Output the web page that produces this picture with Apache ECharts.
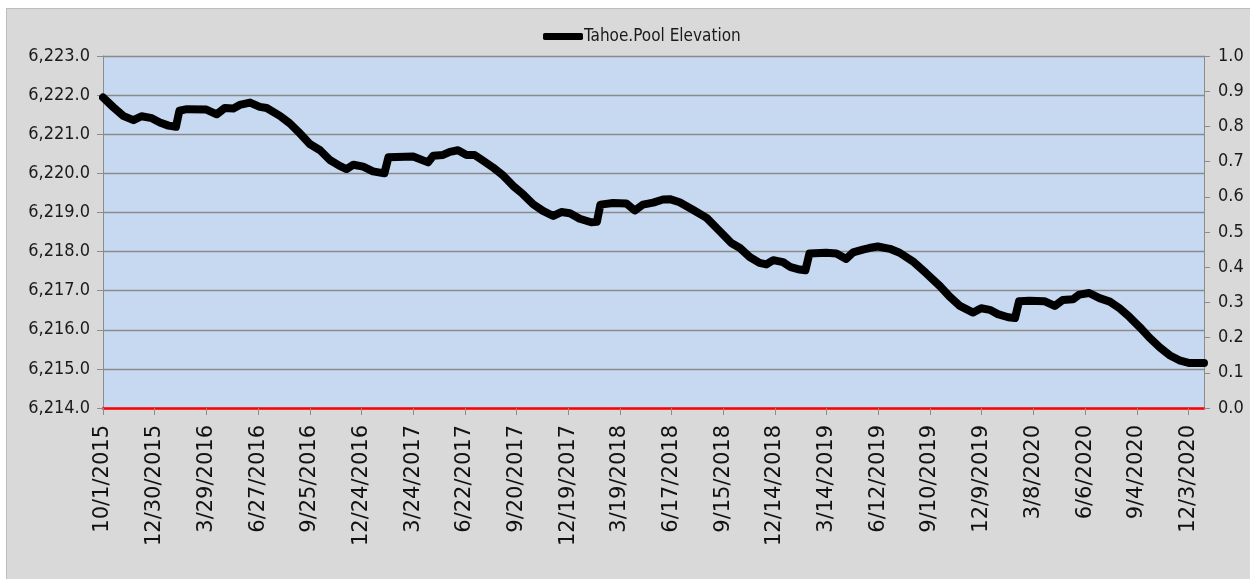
<!DOCTYPE html>
<html>
<head>
<meta charset="utf-8">
<title>Tahoe.Pool Elevation</title>
<script src="https://cdn.jsdelivr.net/npm/echarts@6/dist/echarts.min.js"></script>
<style>
html, body { margin: 0; padding: 0; background: #ffffff; }
#chart {
    position: absolute;
    left: 6px;
    top: 8px;
    width: 1244px;
    height: 571px;
    background: #d9d9d9;
    border-top: 1px solid #bdbdbd;
    border-left: 1px solid #bdbdbd;
    box-sizing: border-box;
}
</style>
</head>
<body>
<div id="chart"></div>
<script>
// days since 10/1/2015
var days = [0, 18, 35, 53, 67, 85, 99, 114, 127, 133, 146, 180, 198, 212, 227, 238, 256, 273, 285, 308,
    325, 343, 360, 378, 395, 412, 424, 436, 453, 470, 490, 497, 540, 566, 575, 592, 604, 618, 633, 647,
    662, 679, 697, 714, 731, 749, 766, 784, 798, 813, 830, 850, 860, 866, 888, 911, 926, 940, 958, 975,
    987, 1004, 1027, 1051, 1074, 1094, 1109, 1126, 1143, 1155, 1167, 1184, 1196, 1213, 1223, 1230, 1259, 1277, 1294, 1306,
    1323, 1334, 1349, 1370, 1387, 1410, 1433, 1457, 1474, 1492, 1515, 1529, 1544, 1558, 1576, 1588, 1595, 1613, 1639, 1657,
    1671, 1689, 1700, 1717, 1735, 1753, 1770, 1787, 1805, 1822, 1840, 1857, 1874, 1892, 1917]

// pool elevation (ft)
var elevation = [6221.94, 6221.69, 6221.47, 6221.36, 6221.46, 6221.41, 6221.30, 6221.22, 6221.19, 6221.60,
    6221.64, 6221.63, 6221.51, 6221.67, 6221.66, 6221.75, 6221.81, 6221.70, 6221.67, 6221.47,
    6221.28, 6221.02, 6220.75, 6220.59, 6220.34, 6220.19, 6220.11, 6220.22, 6220.17, 6220.05,
    6220.00, 6220.41, 6220.43, 6220.28, 6220.45, 6220.47, 6220.55, 6220.59, 6220.47, 6220.47,
    6220.32, 6220.15, 6219.94, 6219.68, 6219.47, 6219.21, 6219.04, 6218.91, 6219.01, 6218.98,
    6218.84, 6218.75, 6218.76, 6219.20, 6219.24, 6219.23, 6219.05, 6219.20, 6219.25, 6219.33,
    6219.34, 6219.26, 6219.07, 6218.86, 6218.52, 6218.22, 6218.09, 6217.86, 6217.71, 6217.67,
    6217.78, 6217.73, 6217.61, 6217.54, 6217.52, 6217.95, 6217.97, 6217.95, 6217.81, 6217.98,
    6218.05, 6218.09, 6218.13, 6218.07, 6217.97, 6217.75, 6217.45, 6217.12, 6216.85, 6216.61,
    6216.44, 6216.55, 6216.51, 6216.40, 6216.32, 6216.30, 6216.73, 6216.74, 6216.73, 6216.61,
    6216.76, 6216.78, 6216.90, 6216.94, 6216.81, 6216.72, 6216.55, 6216.33, 6216.07, 6215.80,
    6215.55, 6215.35, 6215.22, 6215.15, 6215.15]

var startDate = Date.UTC(2015, 9, 1)
var seriesName = 'Tahoe.Pool Elevation'
var narrowFont = '"DejaVu Sans Condensed", Roboto, sans-serif'

function dayLabel(d){
    if(d % 90 !== 0) return ''
    var t = new Date(startDate + d * 86400000)
    return (t.getUTCMonth() + 1) + '/' + t.getUTCDate() + '/' + t.getUTCFullYear()
}

var points = days.map(function(d, i){ return [d, elevation[i]] })

var chart = echarts.init(document.getElementById('chart'))
var option = {
    animation: false,
    legend: {
        data: [seriesName],
        left: 531,
        top: 14,
        icon: 'roundRect',
        itemWidth: 40,
        itemHeight: 7,
        itemGap: 5,
        itemStyle: { color: '#000000' },
        textStyle: {
            fontFamily: narrowFont,
            fontSize: 17,
            color: '#1a1a1a',
            padding: [0, 0, 0, -4]
        }
    },
    grid: {
        show: true,
        left: 96,
        right: 46,
        top: 47,
        bottom: 171,
        backgroundColor: '#c6d9f0',
        borderWidth: 0
    },
    xAxis: {
        type: 'value',
        min: 0,
        max: 1917,
        interval: 90,
        axisLine: { lineStyle: { color: '#ff0000', width: 2.5 } },
        axisTick: { length: 7, lineStyle: { color: '#8c8c8c', width: 1 } },
        splitLine: { show: false },
        axisLabel: {
            rotate: 90,
            margin: 17,
            showMaxLabel: false,
            fontFamily: 'DejaVu Sans',
            fontSize: 21,
            color: '#111',
            formatter: dayLabel
        }
    },
    yAxis: [{
        type: 'value',
        min: 6214,
        max: 6223,
        interval: 1,
        axisLine: { show: true, lineStyle: { color: '#8c8c8c', width: 1 } },
        axisTick: { show: true, length: 6, lineStyle: { color: '#8c8c8c' } },
        splitLine: { lineStyle: { color: '#8a8a8a', width: 1.3 } },
        axisLabel: {
            margin: 13,
            fontFamily: narrowFont,
            fontSize: 18,
            color: '#1a1a1a',
            formatter: function(v){
                return v.toLocaleString('en-US', { minimumFractionDigits: 1, maximumFractionDigits: 1 })
            }
        }
    }, {
        type: 'value',
        min: 0,
        max: 1,
        interval: 0.1,
        position: 'right',
        axisLine: { show: true, lineStyle: { color: '#8c8c8c', width: 1 } },
        axisTick: { show: true, length: 6, lineStyle: { color: '#8c8c8c' } },
        splitLine: { show: false },
        axisLabel: {
            margin: 14,
            fontFamily: narrowFont,
            fontSize: 18,
            color: '#1a1a1a',
            formatter: function(v){ return v.toFixed(1) }
        }
    }],
    series: [{
        name: seriesName,
        type: 'line',
        data: points,
        showSymbol: false,
        symbol: 'none',
        itemStyle: { color: '#000000' },
        lineStyle: { color: '#000000', width: 8, cap: 'round', join: 'round' }
    }]
}
chart.setOption(option)
</script>
</body>
</html>
